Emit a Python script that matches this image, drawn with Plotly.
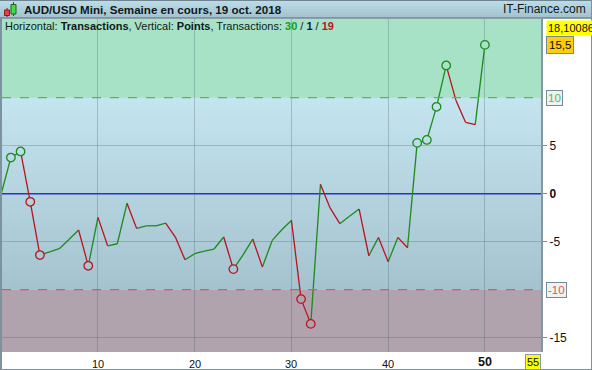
import plotly.graph_objects as go

# ---- data ----
trade_index = list(range(0, 51))
cum_points = [0, 3.76, 4.4, -0.85, -6.4, -6.07, -5.74, -4.77, -3.79, -7.52,
              -2.47, -5.43, -5.22, -1.01, -3.62, -3.35, -3.35, -3.06, -4.52, -6.89,
              -6.26, -5.98, -5.77, -4.52, -7.86, -6.37, -4.73, -7.65, -4.9, -3.76,
              -2.79, -10.99, -13.57, 0.97, -1.49, -3.13, -2.36, -1.6, -6.47, -4.56,
              -7.1, -4.56, -5.64, 5.29, 5.6, 9.05, 13.36, 9.74, 7.44, 7.2, 15.5]
marked_trades = [1, 2, 3, 4, 9, 24, 31, 32, 43, 44, 45, 46, 50]
x_tick_vals = [10, 20, 30, 40]
x_extra_labels = [50, 55]
y_tick_vals = [5, 0, -5, -15]
y_tick_text = ["5", "<b>0</b>", "-5", "-15"]
upper_level = 10
lower_level = -10
max_label = "18,10086"
last_label = "15,5"
title_text = "AUD/USD Mini, Semaine en cours, 19 oct. 2018"
site_text = "IT-Finance.com"
wins, flats, losses = 30, 1, 19

# ---- geometry helpers ----
W, H = 592, 370
ML, MR, MT, MB = 2, 51, 19, 18
PW, PH = W - ML - MR, H - MT - MB
def px(x): return (x - ML) / PW
def py(y): return (H - MB - y) / PH

YMIN, YMAX = -16.5, 18.2
XMIN, XMAX = 0.08, 55.8

GREEN = "#1c8a1c"
RED = "#b8141e"
FONT = "Liberation Sans, Arial, sans-serif"

def hexrgb(h):
    h = h.lstrip("#")
    return tuple(int(h[i:i + 2], 16) for i in (0, 2, 4))
def mix(c1, c2, t):
    a, b = hexrgb(c1), hexrgb(c2)
    return "rgb(%d,%d,%d)" % tuple(round(a[i] + (b[i] - a[i]) * t) for i in range(3))

BLUE_TOP, BLUE_BOT = "#c4e4f0", "#a5c3cf"
GREEN_BG = "#a7e2c7"
MAUVE_BG = "#b0a3ae"

def bg_at(v):
    if v >= upper_level:
        return GREEN_BG
    if v <= lower_level:
        return MAUVE_BG
    return mix(BLUE_BOT, BLUE_TOP, (v - lower_level) / (upper_level - lower_level))

fig = go.Figure()

# ---- segments coloured by direction ----
ux, uy, dx, dy = [], [], [], []
for i in range(1, len(cum_points)):
    a, b = cum_points[i - 1], cum_points[i]
    if b >= a:
        ux += [trade_index[i - 1], trade_index[i], None]
        uy += [a, b, None]
    else:
        dx += [trade_index[i - 1], trade_index[i], None]
        dy += [a, b, None]
fig.add_trace(go.Scatter(x=ux, y=uy, mode="lines", line=dict(color=GREEN, width=1.3),
                         hoverinfo="skip", showlegend=False))
fig.add_trace(go.Scatter(x=dx, y=dy, mode="lines", line=dict(color=RED, width=1.3),
                         hoverinfo="skip", showlegend=False))

mk_x = [trade_index[i] for i in marked_trades]
mk_y = [cum_points[i] for i in marked_trades]
mk_line = [GREEN if cum_points[i] >= cum_points[i - 1] else RED for i in marked_trades]
mk_fill = [bg_at(cum_points[i]) for i in marked_trades]
fig.add_trace(go.Scatter(x=mk_x, y=mk_y, mode="markers",
                         marker=dict(symbol="circle", size=8.5, color=mk_fill,
                                     line=dict(color=mk_line, width=1.3)),
                         hoverinfo="skip", showlegend=False))

shapes = []
# background zones
shapes.append(dict(type="rect", xref="paper", yref="y", x0=0, x1=1, y0=upper_level, y1=YMAX + 1,
                   fillcolor=GREEN_BG, line_width=0, layer="below"))
shapes.append(dict(type="rect", xref="paper", yref="y", x0=0, x1=1, y0=YMIN - 1, y1=lower_level,
                   fillcolor=MAUVE_BG, line_width=0, layer="below"))
NB = 40
span = upper_level - lower_level
for k in range(NB):
    y0 = lower_level + span * k / NB
    y1 = lower_level + span * (k + 1) / NB + 0.05
    shapes.append(dict(type="rect", xref="paper", yref="y", x0=0, x1=1, y0=y0, y1=min(y1, upper_level),
                       fillcolor=mix(BLUE_BOT, BLUE_TOP, (k + 0.5) / NB), line_width=0, layer="below"))
# level lines
shapes.append(dict(type="line", xref="paper", yref="y", x0=0, x1=1, y0=upper_level, y1=upper_level,
                   line=dict(color="#4cc04c", width=1.2, dash="dash"), layer="above"))
shapes.append(dict(type="line", xref="paper", yref="y", x0=0, x1=1, y0=lower_level, y1=lower_level,
                   line=dict(color="#e05858", width=1.2, dash="dash"), layer="above"))
shapes.append(dict(type="line", xref="paper", yref="y", x0=0, x1=1, y0=0, y1=0,
                   line=dict(color="#2233c8", width=1.5), layer="between"))

# title bar with gradient
TB = 6
for k in range(TB):
    t0 = 18 * k / TB
    t1 = 18 * (k + 1) / TB + 0.3
    shapes.append(dict(type="rect", xref="paper", yref="paper", x0=px(0), x1=px(W), y0=py(t1), y1=py(t0),
                       fillcolor=mix("#bcdce8", "#a2c2ce", (k + 0.5) / TB), line_width=0, layer="above"))
shapes.append(dict(type="line", xref="paper", yref="paper", x0=px(0), x1=px(W), y0=py(0.5), y1=py(0.5),
                   line=dict(color="#6f8692", width=1), layer="above"))
shapes.append(dict(type="line", xref="paper", yref="paper", x0=px(0), x1=px(W), y0=py(18), y1=py(18),
                   line=dict(color="#6f8692", width=1.5), layer="above"))
# outer borders
shapes.append(dict(type="line", xref="paper", yref="paper", x0=px(1), x1=px(1), y0=py(H), y1=py(18),
                   line=dict(color="#7d92a0", width=2), layer="above"))
shapes.append(dict(type="line", xref="paper", yref="paper", x0=px(591.5), x1=px(591.5), y0=py(H), y1=py(0),
                   line=dict(color="#7d92a0", width=1), layer="above"))
shapes.append(dict(type="line", xref="paper", yref="paper", x0=px(0), x1=px(W), y0=py(369.5), y1=py(369.5),
                   line=dict(color="#7d92a0", width=1), layer="above"))
# candle icon
shapes.append(dict(type="line", xref="paper", yref="paper", x0=px(7), x1=px(7), y0=py(17), y1=py(8),
                   line=dict(color="#802020", width=1), layer="above"))
shapes.append(dict(type="rect", xref="paper", yref="paper", x0=px(4.5), x1=px(9.5), y0=py(15.5), y1=py(10),
                   fillcolor="#e84040", line=dict(color="#802020", width=1), layer="above"))
shapes.append(dict(type="line", xref="paper", yref="paper", x0=px(13.5), x1=px(13.5), y0=py(16), y1=py(2),
                   line=dict(color="#206020", width=1), layer="above"))
shapes.append(dict(type="rect", xref="paper", yref="paper", x0=px(11), x1=px(16), y0=py(14), y1=py(4.5),
                   fillcolor="#44dd44", line=dict(color="#206020", width=1), layer="above"))

ann = []
ann.append(dict(x=px(22), y=py(9.5), xref="paper", yref="paper", xanchor="left", yanchor="middle",
                text="<b>%s</b>" % title_text, showarrow=False,
                font=dict(family=FONT, size=11.6, color="#101820")))
ann.append(dict(x=px(588), y=py(9.5), xref="paper", yref="paper", xanchor="right", yanchor="middle",
                text=site_text, showarrow=False, font=dict(family=FONT, size=12, color="#101820")))
ann.append(dict(x=px(3), y=py(26.5), xref="paper", yref="paper", xanchor="left", yanchor="middle",
                text=("Horizontal: <b>Transactions</b>, Vertical: <b>Points</b>, Transactions: "
                      "<b><span style='color:#1a9a1a'>%d</span></b> / <b><span style='color:#101858'>%d</span></b> / "
                      "<b><span style='color:#c01020'>%d</span></b>") % (wins, flats, losses),
                showarrow=False, font=dict(family=FONT, size=11, color="#101820")))
# x labels
for v in x_tick_vals:
    ann.append(dict(x=v, y=py(364), xref="x", yref="paper", xanchor="center", yanchor="middle",
                    text=str(v), showarrow=False, font=dict(family=FONT, size=11, color="#101010")))
ann.append(dict(x=x_extra_labels[0], y=py(362.5), xref="x", yref="paper", xanchor="center", yanchor="middle",
                text="<b>%d</b>" % x_extra_labels[0], showarrow=False,
                font=dict(family=FONT, size=12.5, color="#101010")))
ann.append(dict(x=x_extra_labels[1], y=py(362.5), xref="x", yref="paper", xanchor="center", yanchor="middle",
                text=str(x_extra_labels[1]), showarrow=False, bgcolor="#ffff00", bordercolor="#8a9aa4",
                borderwidth=1, borderpad=1, font=dict(family=FONT, size=11, color="#101010")))
# y level labels
ann.append(dict(x=px(546), y=upper_level, xref="paper", yref="y", xanchor="left", yanchor="middle",
                text=str(upper_level), showarrow=False, bgcolor="#eef2f2", bordercolor="#7a8a94",
                borderwidth=1, borderpad=1, font=dict(family=FONT, size=11.5, color="#4cc04c")))
ann.append(dict(x=px(546), y=lower_level, xref="paper", yref="y", xanchor="left", yanchor="middle",
                text=str(lower_level), showarrow=False, bgcolor="#eef2f2", bordercolor="#7a8a94",
                borderwidth=1, borderpad=1, font=dict(family=FONT, size=11.5, color="#e05858")))
ann.append(dict(x=px(546), y=py(28), xref="paper", yref="paper", xanchor="left", yanchor="middle",
                text=max_label, showarrow=False, bgcolor="#ffff00", borderpad=1,
                font=dict(family=FONT, size=11, color="#101010")))
ann.append(dict(x=px(546), y=cum_points[-1], xref="paper", yref="y", xanchor="left", yanchor="middle",
                text=last_label, showarrow=False, bgcolor="#ffcc10", bordercolor="#7a8a94",
                borderwidth=1, borderpad=2, font=dict(family=FONT, size=11.5, color="#101010")))

GRID = "rgba(60,85,100,0.28)"
fig.update_layout(
    width=W, height=H,
    margin=dict(l=ML, r=MR, t=MT, b=MB, pad=0),
    paper_bgcolor="white", plot_bgcolor=mix(BLUE_BOT, BLUE_TOP, 0.5),
    showlegend=False,
    shapes=shapes, annotations=ann,
    xaxis=dict(range=[XMIN, XMAX], tickvals=x_tick_vals + [x_extra_labels[0]], showticklabels=False,
               showgrid=True, gridcolor=GRID, gridwidth=1, zeroline=False, ticks="",
               showline=False, fixedrange=True),
    yaxis=dict(range=[YMIN, YMAX], side="right", tickvals=y_tick_vals, ticktext=y_tick_text,
               ticks="outside", ticklen=4, tickcolor="#7a8a94", tickwidth=1,
               showgrid=True, gridcolor=GRID, gridwidth=1, zeroline=False,
               showline=True, linecolor="#8596a0", linewidth=2,
               tickfont=dict(family=FONT, size=12, color="#101010"), fixedrange=True),
)

fig.write_html("out.html")
